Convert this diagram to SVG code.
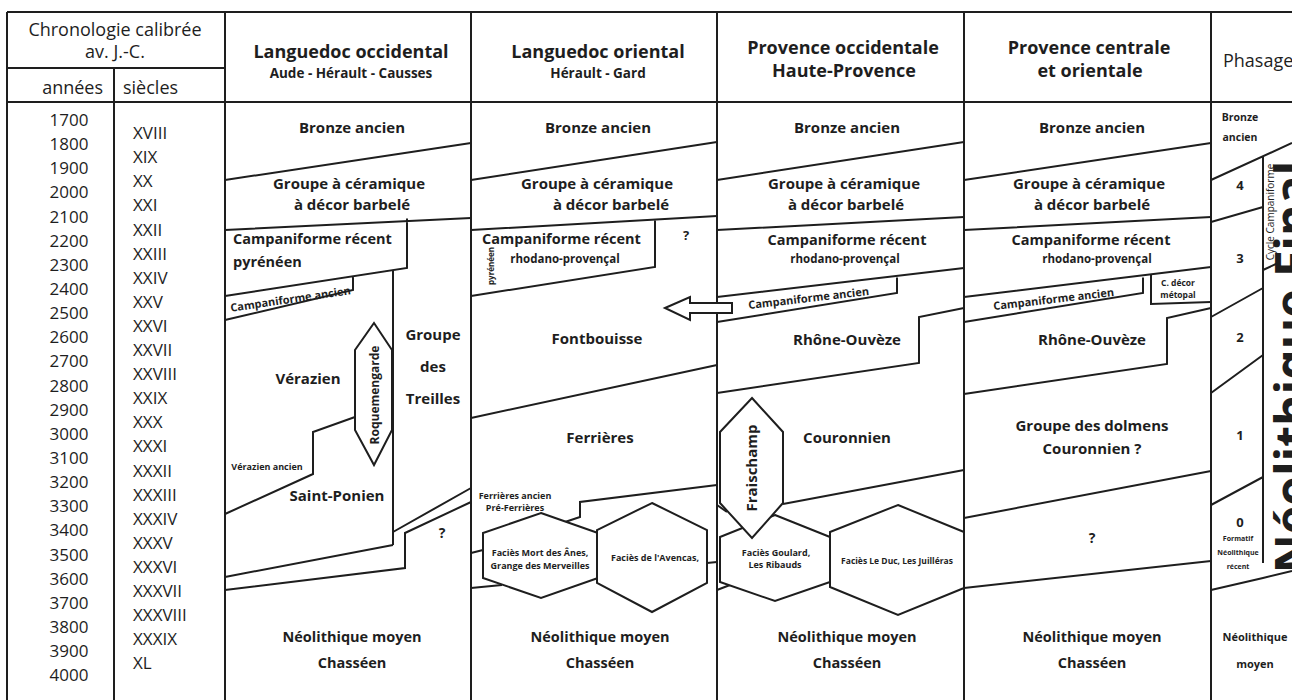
<svg xmlns="http://www.w3.org/2000/svg" width="1292" height="700" viewBox="0 0 1292 700">
<style>
.ln{fill:none;stroke:#1e1e1e;stroke-width:2;stroke-linejoin:miter}
.sh{fill:#fff;stroke:#1e1e1e;stroke-width:2;stroke-linejoin:miter}
text{font-family:"Open Sans","Liberation Sans",sans-serif;fill:#1e1e1e}
.b{font-weight:bold;text-anchor:middle}
.r{font-weight:normal}
.h{font-size:18px}
.h2{font-size:13.5px}
.m{font-size:15px}
.c{font-size:14.5px}
.s{font-size:11.5px}
.t{font-size:9px}
.yr{font-size:17px;text-anchor:middle}
.sc{font-size:17px}
</style>
<rect width="1292" height="700" fill="#fff"/>

<g id="grid" class="ln">
<path d="M7,12 H1292 M7,102 H1292 M7,68 H225 M7,12 V700 M114,68 V700 M225,12 V700 M471,12 V700 M717,12 V700 M964,12 V700 M1211,12 V700"/>
</g>

<g id="chronologie">
<text class="r" x="115" y="36" font-size="18" text-anchor="middle">Chronologie calibrée</text>
<text class="r" x="115" y="58" font-size="18" text-anchor="middle">av. J.-C.</text>
<text class="r" x="103" y="94" font-size="18" text-anchor="end">années</text>
<text class="r" x="123" y="94" font-size="18">siècles</text>
<g class="r yr">
<text x="69" y="126">1700</text><text x="69" y="150">1800</text><text x="69" y="174">1900</text><text x="69" y="198">2000</text>
<text x="69" y="222.5">2100</text><text x="69" y="246.5">2200</text><text x="69" y="271">2300</text><text x="69" y="295">2400</text>
<text x="69" y="319">2500</text><text x="69" y="343">2600</text><text x="69" y="367">2700</text><text x="69" y="391.5">2800</text>
<text x="69" y="415.5">2900</text><text x="69" y="440">3000</text><text x="69" y="464">3100</text><text x="69" y="488">3200</text>
<text x="69" y="512">3300</text><text x="69" y="536">3400</text><text x="69" y="560.5">3500</text><text x="69" y="584.5">3600</text>
<text x="69" y="608.5">3700</text><text x="69" y="633">3800</text><text x="69" y="657">3900</text><text x="69" y="681">4000</text>
</g>
<g class="r sc">
<text x="133" y="139">XVIII</text><text x="133" y="163">XIX</text><text x="133" y="187">XX</text><text x="133" y="211">XXI</text>
<text x="133" y="235.5">XXII</text><text x="133" y="259.5">XXIII</text><text x="133" y="283.5">XXIV</text><text x="133" y="307.5">XXV</text>
<text x="133" y="332">XXVI</text><text x="133" y="356">XXVII</text><text x="133" y="380">XXVIII</text><text x="133" y="404">XXIX</text>
<text x="133" y="428">XXX</text><text x="133" y="452">XXXI</text><text x="133" y="476.5">XXXII</text><text x="133" y="500.5">XXXIII</text>
<text x="133" y="524.5">XXXIV</text><text x="133" y="548.5">XXXV</text><text x="133" y="573">XXXVI</text><text x="133" y="597">XXXVII</text>
<text x="133" y="621">XXXVIII</text><text x="133" y="645">XXXIX</text><text x="133" y="669">XL</text>
</g>
</g>

<g id="languedoc-occidental">
<path class="ln" d="M225,180 L471,143 M225,230 L471,218 M407,218.6 V268 L225,296 M353,276.5 V290 L225,320 M393,270 V545 M225,577 L393,545 M393,532 L471,488 M225,590 L405,568 V533 L471,502 M355,417 L313,432 V474 L225,514"/>
<path id="roquemengarde" class="sh" d="M374,323 L392,350 V430 L374,465 L355,430 V350 Z"/>
<text class="b h" x="351" y="58">Languedoc occidental</text>
<text class="b h2" x="351" y="78">Aude - Hérault - Causses</text>
<text class="b m" x="352" y="133">Bronze ancien</text>
<text class="b m" x="349" y="189">Groupe à céramique</text>
<text class="b m" x="352" y="210">à décor barbelé</text>
<text class="c" font-weight="bold" x="233" y="244">Campaniforme récent</text>
<text class="c" font-weight="bold" x="233" y="267">pyrénéen</text>
<text class="b" font-size="11" transform="translate(291,303) rotate(-8.4)">Campaniforme ancien</text>
<text class="b m" x="308" y="384">Vérazien</text>
<text class="b" font-size="12" transform="translate(378.5,395) rotate(-90)">Roquemengarde</text>
<text class="b m" x="433" y="340">Groupe</text>
<text class="b m" x="433" y="372">des</text>
<text class="b m" x="433" y="404">Treilles</text>
<text class="b" font-size="9" x="267" y="470">Vérazien ancien</text>
<text class="b m" x="337" y="501">Saint-Ponien</text>
<text class="b" font-size="14" x="442" y="538">?</text>
<text class="b c" x="352" y="642">Néolithique moyen</text>
<text class="b c" x="352" y="668">Chasséen</text>
</g>

<g id="languedoc-oriental">
<path class="ln" d="M471,180 L717,142 M471,230 L717,216 M655,219.5 V267 L471,296 M471,418 L717,365 M717,485 L580,502 V517 L565,522 M471,553 L483,550 M471,588 L502,585 M707,563 L717,562"/>
<path id="facies-mort-des-anes" class="sh" d="M541,513 L598,533 V578 L541,598 L483,578 V533 Z"/>
<path id="facies-avencas" class="sh" d="M652,503 L707,530 V583 L652,612 L597,583 V530 Z"/>
<path id="arrow" class="sh" d="M665,308 L690,297 V303 H732 V313 H690 V320 Z"/>
<text class="b h" x="598" y="58">Languedoc oriental</text>
<text class="b h2" x="598" y="78">Hérault - Gard</text>
<text class="b m" x="598" y="133">Bronze ancien</text>
<text class="b m" x="597" y="189">Groupe à céramique</text>
<text class="b m" x="611" y="210">à décor barbelé</text>
<text class="c" font-weight="bold" x="482" y="244">Campaniforme récent</text>
<text class="b s" x="565" y="263">rhodano-provençal</text>
<text class="b" font-size="8" transform="translate(494,266) rotate(-90)">pyrénéen</text>
<text class="b" font-size="13" x="686" y="240">?</text>
<text class="b m" x="597" y="344">Fontbouisse</text>
<text class="b m" x="600" y="443">Ferrières</text>
<text class="b t" x="515" y="499">Ferrières ancien</text>
<text class="b t" x="515" y="511">Pré-Ferrières</text>
<text class="b t" x="540" y="556">Faciès Mort des Ânes,</text>
<text class="b t" x="540" y="569">Grange des Merveilles</text>
<text class="b t" x="655" y="561">Faciès de l'Avencas,</text>
<text class="b c" x="600" y="642">Néolithique moyen</text>
<text class="b c" x="600" y="668">Chasséen</text>
</g>

<g id="provence-occidentale">
<path class="ln" d="M717,180 L964,142 M717,230 L964,217 M717,297 L964,268 M897,277.5 V293 L717,322 M964,308 L919,317 V363 L717,393 M783,504 L964,470 M717,505 L727,512 M717,590 L730,585"/>
<path id="facies-goulard" class="sh" d="M775,515 L830,537 V582 L775,601 L720,582 V537 Z"/>
<path id="facies-le-duc" class="sh" d="M898,505 L964,532 V588 L898,615 L830,587 V532 Z"/>
<path id="fraischamp" class="sh" d="M752,398 L783,432 V503 L752,538 L720,503 V432 Z"/>
<text class="b h" x="843" y="54">Provence occidentale</text>
<text class="b h" x="844" y="77">Haute-Provence</text>
<text class="b m" x="847" y="133">Bronze ancien</text>
<text class="b m" x="844" y="189">Groupe à céramique</text>
<text class="b m" x="846" y="210">à décor barbelé</text>
<text class="b c" x="847" y="245">Campaniforme récent</text>
<text class="b s" x="845" y="263">rhodano-provençal</text>
<text class="b" font-size="11" transform="translate(809,302) rotate(-6.7)">Campaniforme ancien</text>
<text class="b m" x="847" y="345">Rhône-Ouvèze</text>
<text class="b m" transform="translate(757,468) rotate(-90)">Fraischamp</text>
<text class="b m" x="847" y="443">Couronnien</text>
<text class="b t" x="776" y="556">Faciès Goulard,</text>
<text class="b t" x="775" y="568">Les Ribauds</text>
<text class="b" font-size="8.5" x="897" y="564">Faciès Le Duc, Les Juilléras</text>
<text class="b c" x="847" y="642">Néolithique moyen</text>
<text class="b c" x="847" y="668">Chasséen</text>
</g>

<g id="provence-centrale">
<path class="ln" d="M964,180 L1211,143 M964,230 L1211,217 M964,297 L1211,267 M1143,277.5 V293 L964,322 M1151,274 V304 L1211,302 M1211,308 L1167,318 V364 L964,394 M964,518 L1211,471 M964,588 L1211,561"/>
<text class="b h" x="1089" y="54">Provence centrale</text>
<text class="b h" x="1090" y="77">et orientale</text>
<text class="b m" x="1092" y="133">Bronze ancien</text>
<text class="b m" x="1089" y="189">Groupe à céramique</text>
<text class="b m" x="1092" y="210">à décor barbelé</text>
<text class="b c" x="1091" y="245">Campaniforme récent</text>
<text class="b s" x="1097" y="263">rhodano-provençal</text>
<text class="b" font-size="11" transform="translate(1054,303) rotate(-6.7)">Campaniforme ancien</text>
<text class="b" font-size="8.5" x="1178" y="286">C. décor</text>
<text class="b" font-size="8.5" x="1178" y="298">métopal</text>
<text class="b m" x="1092" y="345">Rhône-Ouvèze</text>
<text class="b m" x="1092" y="431">Groupe des dolmens</text>
<text class="b m" x="1092" y="454">Couronnien ?</text>
<text class="b" font-size="14" x="1092" y="543">?</text>
<text class="b c" x="1092" y="642">Néolithique moyen</text>
<text class="b c" x="1092" y="668">Chasséen</text>
</g>

<g id="phasage">
<path class="ln" d="M1211,180 L1292,143 M1263,157 V563 M1211,222 L1263,207 M1211,317 L1263,288 M1211,393 L1263,355 M1211,505 L1263,477 M1211,590 L1263,578 L1292,571 M1263,270 L1278,263"/>
<text class="r" font-size="18" x="1223" y="67">Phasage</text>
<text class="b" font-size="10.5" x="1240" y="121">Bronze</text>
<text class="b" font-size="10.5" x="1240" y="141">ancien</text>
<text class="b" font-size="13" x="1240" y="190">4</text>
<text class="b" font-size="13" x="1240" y="263">3</text>
<text class="b" font-size="13" x="1240" y="342">2</text>
<text class="b" font-size="13" x="1240" y="440">1</text>
<text class="b" font-size="13" x="1240" y="527">0</text>
<text class="b" font-size="7" x="1238" y="541">Formatif</text>
<text class="b" font-size="7" x="1238" y="555">Néolithique</text>
<text class="b" font-size="7" x="1238" y="569">récent</text>
<text class="b" font-size="11" x="1255" y="641">Néolithique</text>
<text class="b" font-size="11" x="1255" y="668">moyen</text>
<text class="r" font-size="10" text-anchor="middle" transform="translate(1273.5,212) rotate(-90)">Cycle Campaniforme</text>
<text class="b" font-size="48" transform="translate(1310,367) rotate(-90)">Néolithique Final</text>
</g>
</svg>
